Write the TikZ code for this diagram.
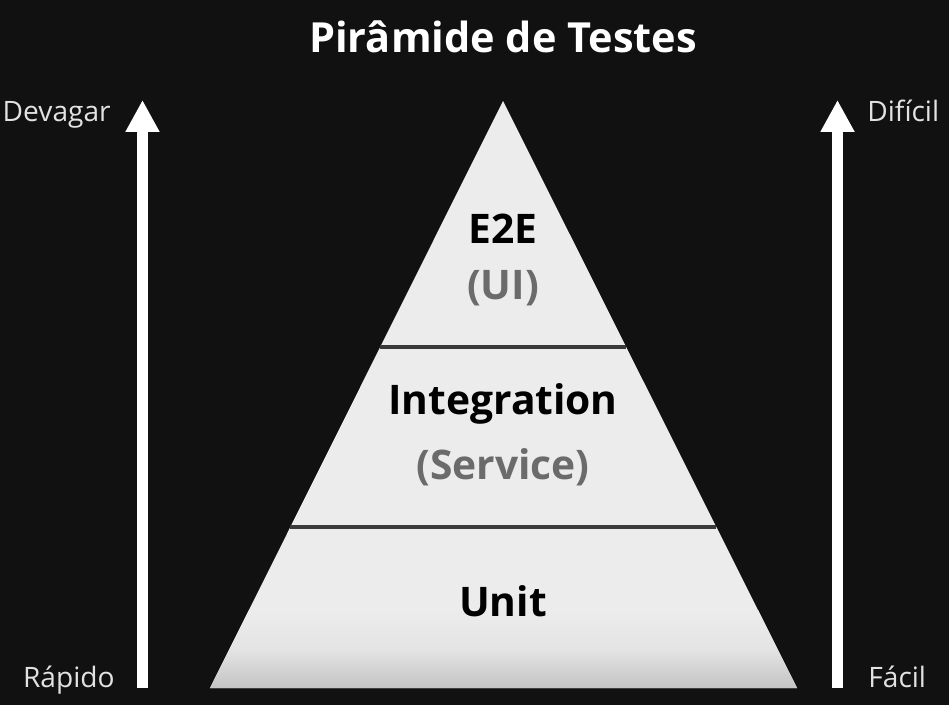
\documentclass[tikz,border=0pt]{standalone}
\usepackage{fontspec}
\setmainfont{Open Sans}
\usepackage{tikz}
\usetikzlibrary{arrows.meta}

\definecolor{bgdark}{HTML}{111111}
\definecolor{pyrlight}{HTML}{ECECEC}
\definecolor{pyrshadow}{HTML}{C4C4C4}
\definecolor{divgray}{HTML}{3A3A3A}
\definecolor{subgray}{HTML}{6B6B6B}
\definecolor{sidegray}{HTML}{E2E2E2}

\tikzset{
  layer/.style={font=\fontsize{23.2}{27}\selectfont\bfseries, text=black, anchor=base},
  sublayer/.style={layer, text=subgray},
  side/.style={font=\fontsize{16}{19}\selectfont, text=sidegray, inner sep=0pt},
  axis/.style={white, line width=0.22cm, -{Triangle[width=0.64cm,length=0.64cm]}},
  divider/.style={divgray, line width=2.2pt}
}

\begin{document}
\begin{tikzpicture}[x=0.02cm,y=-0.02cm]
        % Background
        \fill[bgdark] (0,0) rectangle (949,705);
        \useasboundingbox (0,0) rectangle (949,705);

        % Title
        \node[font=\fontsize{23.6}{28}\selectfont\bfseries, text=white, anchor=base] (title) at (503,53) {Pirâmide de Testes};

        % Pyramid
        \coordinate (apex) at (503,101);
        \coordinate (baseL) at (210,688);
        \coordinate (baseR) at (797,688);
        \fill[pyrlight] (apex) -- (baseR) -- (baseL) -- cycle;
        \shade[top color=pyrlight, bottom color=pyrshadow, middle color=pyrlight!80!pyrshadow] (249,610) -- (758,610) -- (baseR) -- (baseL) -- cycle;

        % Level dividers
        \coordinate (topL) at (380,347);
        \coordinate (topR) at (626,347);
        \coordinate (midL) at (290,527);
        \coordinate (midR) at (716,527);
        \draw[divider] (topL) -- (topR);
        \draw[divider] (midL) -- (midR);

        % Level labels
        \node[layer] (e2e) at (503,244) {E2E};
        \node[sublayer] (ui) at (503,300) {(UI)};
        \node[layer] (integ) at (503,415) {Integration};
        \node[sublayer] (service) at (503,479) {(Service)};
        \node[layer] (unit) at (503,616) {Unit};

        % Speed axis (left)
        \coordinate (speedLow) at (142.5,688);
        \coordinate (speedHigh) at (142.5,100);
        \draw[axis] (speedLow) -- (speedHigh);
        \node[side, anchor=base east] (slow) at (111,122) {Devagar};
        \node[side, anchor=base east] (fast) at (115,687) {Rápido};

        % Difficulty axis (right)
        \coordinate (diffLow) at (837.5,688);
        \coordinate (diffHigh) at (837.5,100);
        \draw[axis] (diffLow) -- (diffHigh);
        \node[side, anchor=base west] (hard) at (867,122) {Difícil};
        \node[side, anchor=base west] (easy) at (868,687) {Fácil};
\end{tikzpicture}
\end{document}
